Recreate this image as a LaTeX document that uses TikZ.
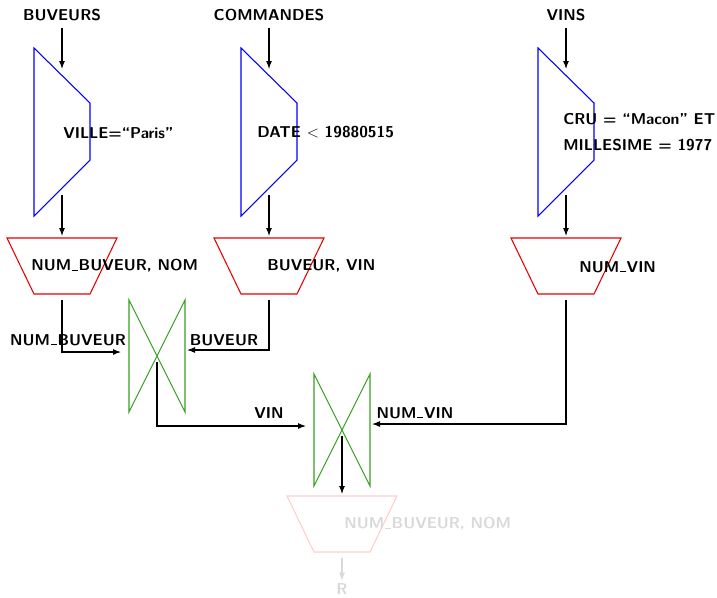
\documentclass[tikz,border=0pt]{standalone}
\usepackage{tikz}
\usetikzlibrary{arrows.meta,calc}
\definecolor{selc}{RGB}{0,0,255}
\definecolor{projc}{RGB}{230,0,0}
\definecolor{joinc}{RGB}{55,160,35}
\definecolor{fadec}{RGB}{255,205,205}
\newcommand{\usc}{\leavevmode\kern.05em\vbox{\hrule height0.9pt width.38em}\kern.05em}

\begin{document}
\begin{tikzpicture}[x=0.75pt,y=-0.75pt,
  lbl/.style={font=\fontsize{11.8}{14}\sffamily\bfseries, inner sep=1pt},
  cond/.style={lbl, anchor=west, inner sep=0pt, align=left},
  faint/.style={lbl, text=black!15},
  arr/.style={-{Latex[length=6pt,width=4.5pt]}, line width=0.8pt},
  fadearr/.style={arr, black!15},
  pics/selbox/.style={code={
    \draw[selc, line width=0.8pt] (-28,-84) -- (28,-29) -- (28,28) -- (-28,84) -- cycle;
    \coordinate (-in) at (0,-63);
    \coordinate (-out) at (0,63);
  }},
  pics/projbox/.style={code={
    \draw[#1, line width=0.8pt] (-55,-28) -- (55,-28) -- (28,28) -- (-28,28) -- cycle;
    \coordinate (-in) at (0,-30);
    \coordinate (-out) at (0,34);
  }},
  pics/joinbox/.style={code={
    \draw[joinc, line width=0.8pt] (-28,-56) -- (28,56) -- (28,-56) -- (-28,56) -- cycle;
    \coordinate (-l) at (-36,-4);
    \coordinate (-r) at (30,-6);
    \coordinate (-out) at (0,6);
  }}]
\useasboundingbox (0,0) rectangle (717,597);

% relations
\node[lbl] (buveurs) at (62,15) {BUVEURS};
\node[lbl] (commandes) at (269,15) {COMMANDES};
\node[lbl] (vins) at (566,15) {VINS};

% selections
\pic (s1) at (62,132) {selbox};
\pic (s2) at (269,132) {selbox};
\pic (s3) at (566,132) {selbox};
\node[cond] (c1) at (63,133) {VILLE=``Paris''};
\node[cond] (c2) at (257,132) {DATE $<$ 19880515};
\node[cond] (c3) at (563,132) {CRU = ``Macon'' ET\\[6pt]MILLESIME = 1977};

% projections
\pic (p1) at (62,266) {projbox=projc};
\pic (p2) at (269,266) {projbox=projc};
\pic (p3) at (566,266) {projbox=projc};
\node[cond] (a1) at (31,266) {NUM\usc BUVEUR, NOM};
\node[cond] (a2) at (267,266) {BUVEUR, VIN};
\node[cond] (a3) at (579,267) {NUM\usc VIN};

% joins
\pic (j1) at (157,356) {joinbox};
\pic (j2) at (342,430) {joinbox};
\node[lbl] (k1) at (68,340) {NUM\usc BUVEUR};
\node[lbl] (k2) at (224,340) {BUVEUR};
\node[lbl] (k3) at (269,413) {VIN};
\node[lbl] (k4) at (415,413) {NUM\usc VIN};

% result
\pic (p4) at (342,524) {projbox=fadec};
\node[cond, text=black!15] (a4) at (344,524) {NUM\usc BUVEUR, NOM};
\node[faint] (res) at (342,589) {R};

\foreach \a/\b in {buveurs/s1,commandes/s2,vins/s3} \draw[arr, shorten <=4pt] (\a) -- (\b-in);
\foreach \a/\b in {s1/p1,s2/p2,s3/p3} \draw[arr] (\a-out) -- (\b-in);
\draw[arr] (p1-out) |- (j1-l);
\draw[arr] (p2-out) |- (j1-r);
\draw[arr] (j1-out) |- (j2-l);
\draw[arr] (p3-out) |- (j2-r);
\draw[arr] (j2-out) -- (p4-in);
\draw[fadearr, shorten >=1pt] (p4-out) -- (res);
\end{tikzpicture}
\end{document}
